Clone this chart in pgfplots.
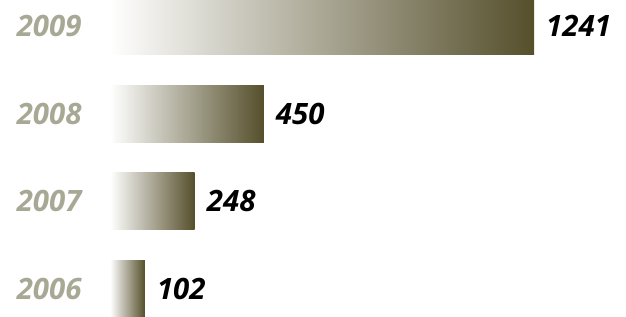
\documentclass[border=0pt]{standalone}
\usepackage{pgfplots}
\pgfplotsset{compat=1.18}
\usepackage{fontspec}
\setmainfont{Open Sans}
\definecolor{barend}{HTML}{554F2B}
\definecolor{yeargray}{HTML}{A8A995}
\begin{document}
\begin{tikzpicture}[x=1bp,y=1bp]
\useasboundingbox (0,0) rectangle (626,316);
\begin{axis}[
  at={(110bp,0bp)}, anchor=south west,
  scale only axis, width=424bp, height=316bp,
  xmin=0, xmax=1241,
  ymin=-0.308, ymax=3.297,
  xbar, bar width=0.65, bar shift=0pt,
  axis line style={draw=none}, tick style={draw=none},
  xtick=\empty,
  ytick={0,1,2,3},
  yticklabels={2006,2007,2008,2009},
  yticklabel style={font=\fontsize{29.5}{29.5}\selectfont\bfseries\itshape, text=yeargray, inner sep=0pt, xshift=-24bp},
  nodes near coords,
  nodes near coords style={font=\fontsize{29.5}{29.5}\selectfont\bfseries\itshape, text=black, anchor=west, inner sep=0pt, xshift=12bp},
  /pgf/number format/assume math mode=true,
  /pgf/number format/1000 sep={},
  clip=false,
]
\addplot[draw=none, left color=white, right color=barend] coordinates {(102,0)};
\addplot[draw=none, left color=white, right color=barend] coordinates {(248,1)};
\addplot[draw=none, left color=white, right color=barend] coordinates {(450,2)};
\addplot[draw=none, left color=white, right color=barend] coordinates {(1241,3)};
\end{axis}
\end{tikzpicture}
\end{document}
